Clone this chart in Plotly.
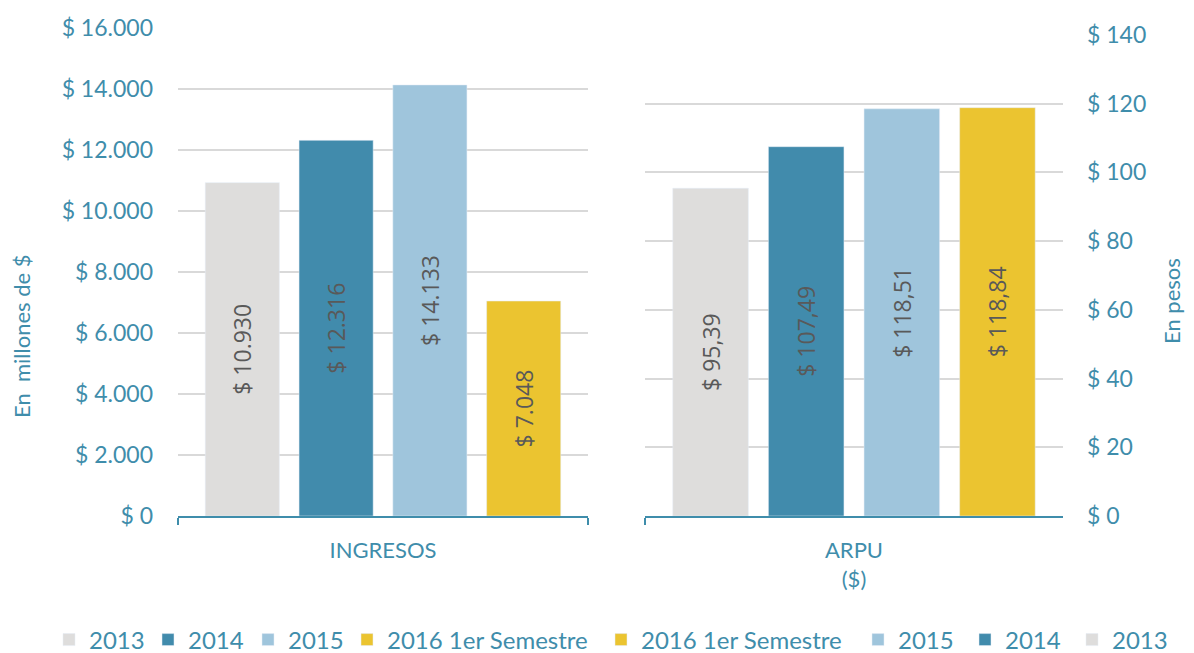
import plotly.graph_objects as go

years = ["2013", "2014", "2015", "2016 1er Semestre"]
colors = ["#DEDDDC", "#418BAC", "#9FC5DC", "#EBC430"]
ingresos = [10930, 12316, 14133, 7048]
ingresos_labels = ["$ 10.930", "$ 12.316", "$ 14.133", "$ 7.048"]
arpu = [95.39, 107.49, 118.51, 118.84]
arpu_labels = ["$ 95,39", "$ 107,49", "$ 118,51", "$ 118,84"]
left_ticks = [0, 2000, 4000, 6000, 8000, 10000, 12000, 14000, 16000]
left_ticktext = ["$ 0", "$ 2.000", "$ 4.000", "$ 6.000", "$ 8.000", "$ 10.000", "$ 12.000", "$ 14.000", "$ 16.000"]
right_ticks = [0, 20, 40, 60, 80, 100, 120, 140]
right_ticktext = ["$ 0", "$ 20", "$ 40", "$ 60", "$ 80", "$ 100", "$ 120", "$ 140"]

# legend entry widths (px) for left and right legends
left_legend_w = [54, 55, 54, 210]
right_legend_w = [62, 62, 62, 212]

TEAL = "#3F8DAB"
AXFONT = "Lato"
LBLFONT = "Open Sans"

fig = go.Figure()

for i, y in enumerate(years):
    fig.add_trace(go.Bar(
        x=["INGRESOS"], y=[ingresos[i]], name=y, marker_color=colors[i],
        text=[ingresos_labels[i]], textposition="inside", textangle=-90,
        insidetextanchor="middle", constraintext="none",
        textfont=dict(family=LBLFONT, size=23, color="#595959"),
        xaxis="x", yaxis="y", legend="legend", offsetgroup=str(i),
        legendwidth=left_legend_w[i],
        hoverinfo="skip",
    ))
for i, y in enumerate(years):
    fig.add_trace(go.Bar(
        x=["ARPU<br>($)"], y=[arpu[i]], name=y, marker_color=colors[i],
        text=[arpu_labels[i]], textposition="inside", textangle=-90,
        insidetextanchor="middle", constraintext="none",
        textfont=dict(family=LBLFONT, size=23, color="#595959"),
        xaxis="x2", yaxis="y2", legend="legend2", offsetgroup=str(i),
        legendwidth=right_legend_w[i],
        hoverinfo="skip",
    ))

# page body has an 8px margin; positions below are in reference pixels
OFF = 8
W, H = 1194 - OFF, 653 - OFF
L, R, T, B = 178, 1063, 28, 516
ml, mt = L - OFF, T - OFF
mr, mb = W - (R - OFF), H - (B - OFF)
pw = R - L
ph = B - T

def px(x):
    return (x - L) / pw

def py(y):
    return (B - y) / ph

axis_common = dict(
    showline=True, linecolor=TEAL, linewidth=2,
    ticks="outside", tickson="boundaries", ticklen=7, tickcolor=TEAL, tickwidth=2,
    tickfont=dict(family=AXFONT, size=22, color=TEAL),
    ticklabelstandoff=14,
    showgrid=False, zeroline=False, fixedrange=True,
)

fig.update_layout(
    width=W, height=H,
    margin=dict(l=ml, r=mr, t=mt, b=mb, autoexpand=False),
    paper_bgcolor="white", plot_bgcolor="white",
    barmode="group", bargap=0.085, bargroupgap=0.21,
    xaxis=dict(domain=[0, px(588)], anchor="y", **axis_common),
    xaxis2=dict(domain=[px(645), 1], anchor="y2", **axis_common),
    yaxis=dict(
        domain=[0, 1], anchor="x", range=[0, 16000],
        tickvals=left_ticks, ticktext=left_ticktext,
        tickfont=dict(family=AXFONT, size=23, color=TEAL),
        showgrid=True, gridcolor="#D9D9D9", gridwidth=2,
        zeroline=False, showline=False, ticks="", ticklabelstandoff=24,
        fixedrange=True,
    ),
    yaxis2=dict(
        domain=[0, py(35)], anchor="x2", side="right", range=[0, 140],
        tickvals=right_ticks, ticktext=right_ticktext,
        tickfont=dict(family=AXFONT, size=23, color=TEAL),
        showgrid=True, gridcolor="#D9D9D9", gridwidth=2,
        zeroline=False, showline=False, ticks="", ticklabelstandoff=23,
        fixedrange=True,
    ),
    legend=dict(
        orientation="h", x=px(49), xanchor="left", y=py(640), yanchor="middle",
        font=dict(family=AXFONT, size=24, color=TEAL), traceorder="normal",
        itemwidth=30, bgcolor="rgba(0,0,0,0)",
    ),
    legend2=dict(
        orientation="h", x=px(601), xanchor="left", y=py(640), yanchor="middle",
        font=dict(family=AXFONT, size=24, color=TEAL), traceorder="reversed",
        itemwidth=30, bgcolor="rgba(0,0,0,0)",
    ),
    annotations=[
        dict(text="En  millones de $", xref="paper", yref="paper", x=px(22), y=py(336),
             xanchor="center", yanchor="middle", textangle=-90, showarrow=False,
             font=dict(family=AXFONT, size=22, color=TEAL)),
        dict(text="En pesos", xref="paper", yref="paper", x=px(1172), y=py(301),
             xanchor="center", yanchor="middle", textangle=-90, showarrow=False,
             font=dict(family=AXFONT, size=22, color=TEAL)),
    ],
)

fig.write_html("out.html")
